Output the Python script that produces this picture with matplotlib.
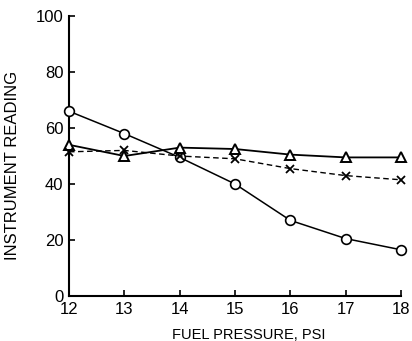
import matplotlib
matplotlib.use("Agg")
import matplotlib.pyplot as plt

pressure = [12, 13, 14, 15, 16, 17, 18]
circles = [66, 58, 49.5, 40, 27, 20.5, 16.5]
triangles = [54, 50, 53, 52.5, 50.5, 49.5, 49.5]
crosses = [51.5, 52, 50, 49, 45.5, 43, 41.5]

plt.rcParams["font.family"] = ["Liberation Sans", "DejaVu Sans"]

fig = plt.figure(figsize=(4.12, 3.41), dpi=100)
ax = fig.add_axes([0.1675, 0.132, 0.806, 0.821])

ax.plot(pressure, circles, "k-", marker="o", markersize=7, markerfacecolor="white",
        markeredgewidth=1.2, linewidth=1.1, clip_on=False, zorder=3)
ax.plot(pressure, triangles, "k-", marker="^", markersize=7, markerfacecolor="white",
        markeredgewidth=1.4, linewidth=1.3, clip_on=False, zorder=3)
ax.plot(pressure, crosses, "k--", marker="x", markersize=6, markeredgewidth=1.3,
        linewidth=1.0, dashes=(4, 2.5), clip_on=False, zorder=3)

ax.set_xlim(12, 18)
ax.set_ylim(0, 100)
ax.set_xticks(pressure)
ax.set_yticks([0, 20, 40, 60, 80, 100])
ax.spines["top"].set_visible(False)
ax.spines["right"].set_visible(False)
ax.spines["left"].set_linewidth(1.5)
ax.spines["bottom"].set_linewidth(1.5)
ax.tick_params(direction="in", length=4, width=1.2, labelsize=12, pad=4)

ax.set_xlabel("FUEL PRESSURE, PSI", fontsize=10.5)
ax.set_ylabel("INSTRUMENT READING", fontsize=12)
ax.xaxis.set_label_coords(0.542, -0.115)
ax.yaxis.set_label_coords(-0.147, 0.468)

fig.savefig("out.png", dpi=100)
